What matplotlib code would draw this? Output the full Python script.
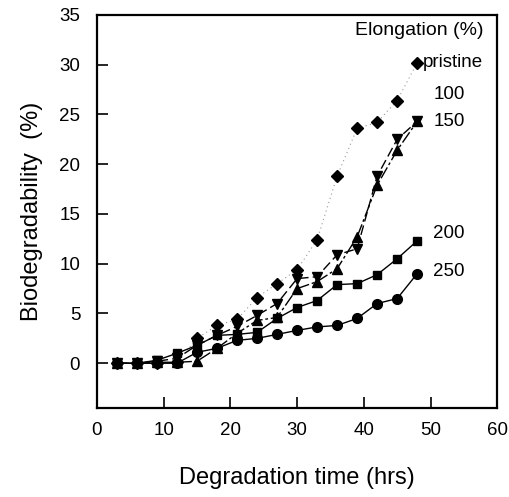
import matplotlib
matplotlib.use("Agg")
import matplotlib.pyplot as plt

plt.rcParams["font.family"] = ["Liberation Sans", "DejaVu Sans"]

# degradation time (hrs)
time = [3, 6, 9, 12, 15, 18, 21, 24, 27, 30, 33, 36, 39, 42, 45, 48]

# biodegradability (%) per elongation
pristine = [0, 0, 0, 0.1, 2.5, 3.8, 4.4, 6.6, 8.0, 9.4, 12.4, 18.8, 23.6, 24.2, 26.4, 30.2]
e100 = [0, 0, 0.2, 0.5, 1.8, 2.8, 3.7, 4.8, 6.0, 8.5, 8.7, 10.9, 11.5, 18.8, 22.5, 24.3]
e150 = [0, 0, 0.1, 0.1, 0.2, 1.5, 3.0, 4.3, 4.6, 7.5, 8.2, 9.5, 12.7, 17.9, 21.4, 24.3]
e200 = [0, 0, 0.3, 1.0, 1.8, 2.8, 2.9, 3.1, 4.5, 5.6, 6.3, 7.9, 8.0, 8.9, 10.5, 12.3]
e250 = [0, 0, 0, 0, 1.1, 1.5, 2.3, 2.5, 2.9, 3.3, 3.65, 3.8, 4.5, 6.0, 6.5, 9.0]

labels = ["pristine", "100", "150", "200", "250"]
label_y = [30.2, 27.0, 24.3, 13.0, 9.2]


def main() -> None:
    fig = plt.figure(figsize=(5.10, 4.97), dpi=100)
    ax = fig.add_axes([0.190, 0.179, 0.785, 0.791])

    ax.plot(time, pristine, color="#999999", linestyle=(0, (1, 3)), linewidth=0.8, zorder=1)
    ax.plot(time, pristine, linestyle="none", marker="D", markersize=6, color="black", zorder=3)
    ax.plot(time, e100, color="black", linestyle=(0, (7, 3)), linewidth=1.0,
            marker="v", markersize=7)
    ax.plot(time, e150, color="black", linestyle=(0, (9, 2, 2, 2)), linewidth=1.0,
            marker="^", markersize=7)
    ax.plot(time, e200, color="black", linestyle="-", linewidth=1.0,
            marker="s", markersize=6)
    ax.plot(time, e250, color="black", linestyle="-", linewidth=1.0,
            marker="o", markersize=7)

    ax.text(48.9, label_y[0], labels[0], fontsize=13.5, va="center", ha="left")
    for lab, yy in zip(labels[1:], label_y[1:]):
        ax.text(50.4, yy, lab, fontsize=13.5, va="center", ha="left")
    ax.text(57.9, 33.4, "Elongation (%)", fontsize=14, va="center", ha="right")

    ax.set_xlim(0, 60)
    ax.set_ylim(-4.5, 35)
    ax.set_xticks([0, 10, 20, 30, 40, 50, 60])
    ax.set_yticks([0, 5, 10, 15, 20, 25, 30, 35])
    ax.tick_params(direction="in", length=8, width=1.2, labelsize=13.5, pad=10)
    ax.tick_params(axis="y", pad=12)
    for s in ax.spines.values():
        s.set_linewidth(1.6)

    ax.set_xlabel("Degradation time (hrs)", fontsize=17, labelpad=20)
    ax.set_ylabel("Biodegradability  (%)", fontsize=17, labelpad=12)

    fig.savefig("out.png", dpi=100)


if __name__ == "__main__":
    main()
